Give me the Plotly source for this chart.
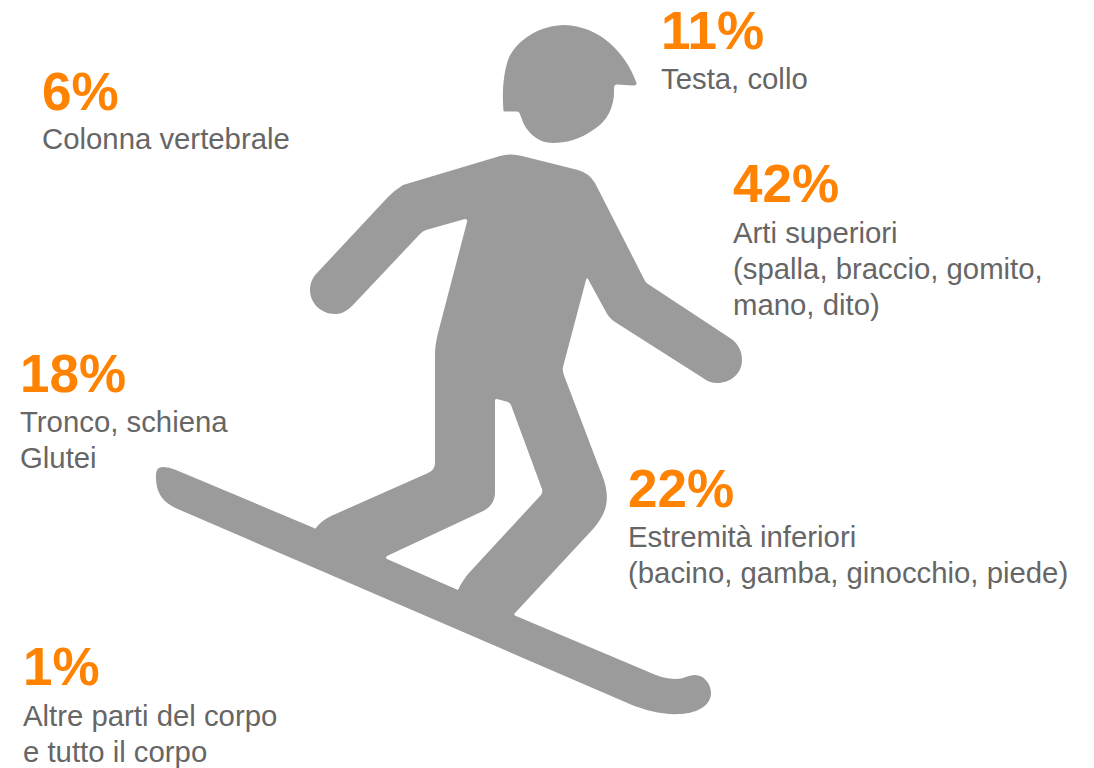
import plotly.graph_objects as go

percentages = [11, 42, 22, 6, 18, 1]
labels = [
    ["Testa, collo"],
    ["Arti superiori", "(spalla, braccio, gomito,", "mano, dito)"],
    ["Estremità inferiori", "(bacino, gamba, ginocchio, piede)"],
    ["Colonna vertebrale"],
    ["Tronco, schiena", "Glutei"],
    ["Altre parti del corpo", "e tutto il corpo"],
]
block_left = [659.5, 732, 626.5, 40.5, 18.5, 21.5]
pct_middle = [30, 183, 488, 91, 373, 666]
label_middle = [78, 232, 536, 138, 421, 715]
LINE_STEP = 36

ORANGE = "#FF8200"
TEXT = "#666666"
GREY = "#9B9B9B"
FONT = "Liberation Sans, Arial, sans-serif"

HEAD = ("M503.5,111 C502,95 503,75 508,60 C516,40 540,25 565,25 C597,26 625,50 636.5,83 "
        "Q637,86 633,85.5 L617,84.5 Q614,84.5 614,88 C615,105 608,120 596,128 "
        "C580,140 565,143 553,143 C538,143 527,132 523,122 L519.5,113 Q519,111.5 517,111.5 "
        "L505,111.5 Z")
BODY = ("M500,156 Q511,153 522,156 L578,170 Q589,173 595,183 L644,279 Q645,282 648,284 "
        "L730,338 C739,344 742,352 742,360 C742,374 730,383 717,383 Q709,383 703,378 "
        "L615,322 Q609,318 606,312 L588,279 Q587,277 586,280 L563,367 Q562,371 565,378 "
        "L600,470 C609,490 609,505 601,518 Q598,523 594,528 L515,613 Q513,615 516,616 "
        "L644,670 C655,675 665,679 676,679 C684,679 688,675 695,675 C704,675 711,684 711,693 "
        "C711,704 700,713 680,714 C662,715 645,710 632,705 L310,566 L180,510 "
        "C165,504 156,495 156,477 Q155,467 163,467 Q169,467 176,470 L314,528 Q315,529 316,528 "
        "Q321,521 331,516 L428,473 Q435,470 435,463 L435,355 Q435,345 438,333 L467,222 "
        "Q468,219 465,219 L426,230 Q423,231 420,234 L353,305 C345,313 340,314 335,314 "
        "C321,314 310,303 310,290 C310,283 313,277 317,273 L388,197 Q395,190 403,185 Z "
        "M495,400 L495,492 C495,502 490,508 481,512 L387,556 Q385,558 387,559 L458,590 "
        "Q461,583 468,574 L541,495 Q543,492 542,489 L511,405 Q510,403 508,402 L497,399 Q495,399 495,400 Z")

annotations = []
for value, lines, left, pmid, lmid in zip(percentages, labels, block_left, pct_middle, label_middle):
    annotations.append(dict(
        x=left, y=pmid, xref="x", yref="y", xanchor="left", yanchor="middle", align="left",
        text=f"<b>{value}%</b>", showarrow=False, borderpad=0,
        font=dict(family=FONT, size=53, color=ORANGE),
    ))
    for i, line in enumerate(lines):
        annotations.append(dict(
            x=left, y=lmid + LINE_STEP * i, xref="x", yref="y", xanchor="left", yanchor="middle",
            align="left", text=line, showarrow=False, borderpad=0,
            font=dict(family=FONT, size=29.33, color=TEXT),
        ))

fig = go.Figure()
fig.update_layout(
    width=1094, height=768,
    margin=dict(l=0, r=0, t=0, b=0),
    paper_bgcolor="white", plot_bgcolor="white",
    showlegend=False,
    xaxis=dict(range=[0, 1094], visible=False, fixedrange=True),
    yaxis=dict(range=[768, 0], visible=False, fixedrange=True),
    shapes=[
        dict(type="path", path=HEAD, fillcolor=GREY, line=dict(width=0), xref="x", yref="y"),
        dict(type="path", path=BODY, fillcolor=GREY, line=dict(width=0), xref="x", yref="y",
             fillrule="evenodd"),
    ],
    annotations=annotations,
)
fig.write_html("out.html", config=dict(displayModeBar=False),
               post_script="document.body.style.margin='0';document.body.style.overflow='hidden';")
